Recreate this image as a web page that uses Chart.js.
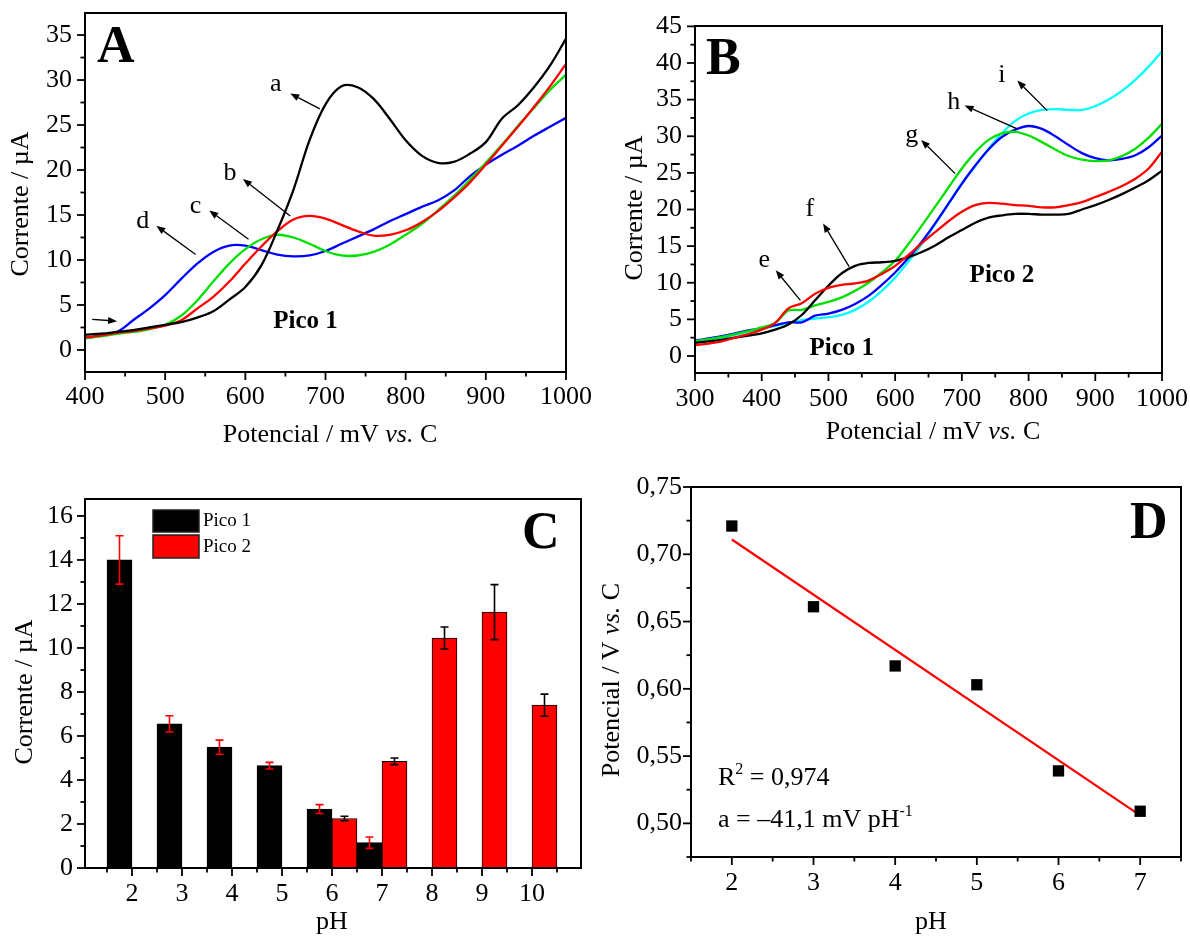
<!DOCTYPE html>
<html>
<head>
<meta charset="utf-8">
<script src="https://cdn.jsdelivr.net/npm/chart.js@4.4.1/dist/chart.umd.min.js"></script>
<style>
  body { margin: 0; background: #fff; }
  #wrap { position: relative; width: 1190px; height: 937px; background: #fff; }
  .panel { position: absolute; }
</style>
</head>
<body>
<div id="wrap">
  <div class="panel" style="left:0;top:0"><canvas id="chartA" width="595" height="465"></canvas></div>
  <div class="panel" style="left:595px;top:0"><canvas id="chartB" width="595" height="465"></canvas></div>
  <div class="panel" style="left:0;top:465px"><canvas id="chartC" width="595" height="472"></canvas></div>
  <div class="panel" style="left:595px;top:465px"><canvas id="chartD" width="595" height="472"></canvas></div>
</div>
<script>
// ---- Panel A: potential (mV) and currents (uA) for curves a-d
const potA = [400, 420, 440, 460, 480, 500, 520, 540, 560, 580, 600, 620, 640, 660, 680, 700,
              720, 740, 760, 780, 800, 820, 840, 860, 880, 900, 920, 940, 960, 980, 1000];
const curveA = [1.7, 1.8, 2.0, 2.2, 2.5, 2.8, 3.1, 3.6, 4.3, 5.6, 7.0, 9.4, 13.3, 17.8, 23.3, 27.3,
                29.3, 29.2, 27.9, 25.7, 23.3, 21.6, 20.8, 20.9, 21.8, 23.1, 25.7, 27.2, 29.2, 31.6, 34.6];
const curveB = [1.4, 1.6, 1.9, 2.1, 2.4, 2.7, 3.3, 4.6, 5.9, 7.6, 9.6, 11.5, 13.2, 14.5, 14.9, 14.6,
                13.9, 13.2, 12.7, 12.8, 13.3, 14.2, 15.4, 16.9, 18.6, 20.6, 22.7, 24.8, 27.0, 29.3, 31.8];
const curveC = [1.3, 1.5, 1.8, 2.0, 2.3, 2.8, 3.8, 5.5, 7.6, 9.6, 11.2, 12.3, 12.8, 12.5, 11.8, 11.0,
                10.5, 10.5, 10.9, 11.7, 12.8, 14.0, 15.5, 17.1, 18.9, 20.8, 22.8, 24.9, 26.9, 28.9, 30.6];
const curveD = [1.3, 1.6, 2.0, 3.3, 4.6, 6.1, 7.9, 9.6, 10.9, 11.6, 11.6, 11.1, 10.6, 10.4, 10.5, 11.0,
                11.8, 12.6, 13.4, 14.3, 15.1, 15.9, 16.6, 17.7, 19.3, 20.6, 21.7, 22.7, 23.8, 24.8, 25.8];
const ticksAx = [400, 500, 600, 700, 800, 900, 1000];
const ticksAy = [0, 5, 10, 15, 20, 25, 30, 35];

// ---- Panel B: curves e-i
const potB = [300, 320, 340, 360, 380, 400, 420, 440, 460, 480, 500, 520, 540, 560, 580, 600, 620, 640,
              660, 680, 700, 720, 740, 760, 780, 800, 820, 840, 860, 880, 900, 920, 940, 960, 980, 1000];
const curveE = [1.5, 1.7, 2.0, 2.5, 3.0, 3.6, 4.5, 6.5, 7.2, 8.5, 9.3, 9.7, 9.9, 10.3, 11.2, 12.3, 13.8, 15.4,
                16.9, 18.4, 19.7, 20.6, 20.9, 20.8, 20.6, 20.5, 20.3, 20.3, 20.6, 21.0, 21.7, 22.4, 23.2, 24.2, 25.6, 27.9];
const curveF = [1.8, 2.0, 2.2, 2.5, 2.8, 3.1, 3.6, 4.3, 5.6, 7.6, 9.6, 11.3, 12.3, 12.7, 12.8, 13.0, 13.5, 14.2,
                15.1, 16.2, 17.2, 18.2, 18.9, 19.2, 19.4, 19.4, 19.3, 19.3, 19.4, 20.0, 20.6, 21.3, 22.1, 23.0, 24.0, 25.3];
const curveG = [2.0, 2.3, 2.6, 3.0, 3.4, 3.9, 4.5, 6.2, 6.3, 6.9, 7.4, 8.0, 8.9, 10.0, 11.4, 13.0, 15.3, 17.8,
                20.4, 23.0, 25.6, 27.8, 29.5, 30.4, 30.6, 30.1, 29.2, 28.2, 27.3, 26.8, 26.6, 26.7, 27.3, 28.3, 29.8, 31.7];
const curveH = [2.1, 2.4, 2.7, 3.1, 3.5, 3.8, 4.2, 4.6, 4.6, 5.5, 5.8, 6.3, 7.1, 8.2, 9.7, 11.4, 13.4, 15.6,
                18.1, 20.8, 23.5, 26.0, 28.2, 29.9, 30.9, 31.4, 31.0, 30.0, 28.8, 27.7, 27.0, 26.7, 26.9, 27.4, 28.5, 30.1];
const curveI = [1.9, 2.2, 2.5, 2.9, 3.3, 3.7, 4.1, 4.5, 4.9, 5.1, 5.3, 5.6, 6.3, 7.4, 8.9, 10.7, 12.9, 15.3,
                18.0, 20.8, 23.6, 25.9, 28.3, 30.4, 32.1, 33.1, 33.6, 33.7, 33.6, 33.6, 34.1, 35.0, 36.2, 37.7, 39.5, 41.6];
const ticksBx = [300, 400, 500, 600, 700, 800, 900, 1000];
const ticksBy = [0, 5, 10, 15, 20, 25, 30, 35, 40, 45];

// ---- Panel C: peak currents vs pH
const phC = [2, 3, 4, 5, 6, 7, 8, 9, 10];
const pico1 = [14.0, 6.55, 5.49, 4.65, 2.68, 1.15, null, null, null];
const pico1Err = [1.1, 0.37, 0.32, 0.15, 0.2, 0.26, null, null, null];
const pico2 = [null, null, null, null, 2.25, 4.85, 10.45, 11.63, 7.4];
const pico2Err = [null, null, null, null, 0.1, 0.15, 0.5, 1.25, 0.5];
const ticksCx = [2, 3, 4, 5, 6, 7, 8, 9, 10];
const ticksCy = [0, 2, 4, 6, 8, 10, 12, 14, 16];

// ---- Panel D: peak potential vs pH with linear fit
const phD = [2, 3, 4, 5, 6, 7];
const potD = [0.721, 0.661, 0.617, 0.603, 0.539, 0.509];
const fitX = [2, 7];
const fitY = [0.711, 0.506];
const ticksDx = [2, 3, 4, 5, 6, 7];
const ticksDy = [0.50, 0.55, 0.60, 0.65, 0.70, 0.75];

const FAM = 'Liberation Serif';

function xy(xs, ys) {
  return xs.map((x, i) => ({ x: x, y: ys[i] }));
}

function makeAxis(min, max, ticks, size, pad, fmt) {
  return {
    type: 'linear', min: min, max: max, offset: false,
    grid: { display: false, drawTicks: false },
    border: { display: false },
    ticks: {
      color: '#000', padding: pad, autoSkip: false, maxRotation: 0,
      font: { family: FAM, size: 26 },
      callback: fmt || (v => String(v))
    },
    afterBuildTicks: s => { s.ticks = ticks.map(v => ({ value: v })); },
    afterFit: s => {
      if (s.isHorizontal()) { s.height = size; s.paddingLeft = 0; s.paddingRight = 0; }
      else { s.width = size; s.paddingTop = 0; s.paddingBottom = 0; }
    }
  };
}

function baseOptions(top, right, xAxis, yAxis) {
  return {
    responsive: false, animation: false,
    layout: { padding: { top: top, right: right, bottom: 0, left: 0 }, autoPadding: false },
    plugins: { legend: { display: false }, tooltip: { enabled: false } },
    scales: { x: xAxis, y: yAxis }
  };
}

function curve(label, xs, ys, color) {
  return {
    label: label, data: xy(xs, ys), borderColor: color, borderWidth: 2.3,
    pointRadius: 0, fill: false, tension: 0.35
  };
}

// frame box + outward major/minor ticks
const frameTicks = {
  id: 'frameTicks',
  afterDraw(chart) {
    const { ctx, chartArea: a } = chart;
    ctx.save();
    ctx.strokeStyle = '#000';
    ctx.lineWidth = 2;
    ctx.strokeRect(a.left, a.top, a.right - a.left, a.bottom - a.top);
    ctx.lineWidth = 1.8;
    [chart.scales.x, chart.scales.y].forEach(s => {
      const major = s.ticks.map(t => t.value);
      const step = major[1] - major[0];
      const minor = [major[0] - step / 2].concat(major.map(v => v + step / 2))
        .filter(v => v >= s.min - 1e-9 && v <= s.max + 1e-9);
      const mark = (v, len) => {
        const p = s.getPixelForValue(v);
        ctx.beginPath();
        if (s.isHorizontal()) { ctx.moveTo(p, a.bottom); ctx.lineTo(p, a.bottom + len); }
        else { ctx.moveTo(a.left, p); ctx.lineTo(a.left - len, p); }
        ctx.stroke();
      };
      major.forEach(v => mark(v, 8));
      minor.forEach(v => mark(v, 4.5));
    });
    ctx.restore();
  }
};

function fontOf(st, size) {
  return (st.includes('i') ? 'italic ' : '') + (st.includes('b') ? 'bold ' : '') + size + 'px "' + FAM + '", serif';
}

function drawRich(ctx, segs, size, align) {
  const parts = segs.map(([s, st = '']) => {
    const sz = st.includes('^') ? Math.round(size * 0.6) : size;
    ctx.font = fontOf(st, sz);
    return { s: s, st: st, sz: sz, w: ctx.measureText(s).width };
  });
  const total = parts.reduce((t, p) => t + p.w, 0);
  let x = align === 'center' ? -total / 2 : 0;
  parts.forEach(p => {
    ctx.font = fontOf(p.st, p.sz);
    ctx.fillText(p.s, x, p.st.includes('^') ? -size * 0.42 : 0);
    x += p.w;
  });
}

function drawArrow(ctx, a, b) {
  const ang = Math.atan2(b[1] - a[1], b[0] - a[0]);
  const L = 9, W = 3.5;
  const bx = b[0] - L * Math.cos(ang), by = b[1] - L * Math.sin(ang);
  ctx.lineWidth = 1.3;
  ctx.beginPath(); ctx.moveTo(a[0], a[1]); ctx.lineTo(bx, by); ctx.stroke();
  ctx.beginPath();
  ctx.moveTo(b[0], b[1]);
  ctx.lineTo(bx + W * Math.sin(ang), by - W * Math.cos(ang));
  ctx.lineTo(bx - W * Math.sin(ang), by + W * Math.cos(ang));
  ctx.closePath(); ctx.fill();
}

// annotations: texts (px or data coords), arrows (data coords), legend boxes (px)
function textLayer(items) {
  return {
    id: 'textLayer',
    afterDraw(chart) {
      const ctx = chart.ctx, sx = chart.scales.x, sy = chart.scales.y;
      const toPx = (p, data) => data ? [sx.getPixelForValue(p[0]), sy.getPixelForValue(p[1])] : p;
      items.forEach(it => {
        ctx.save();
        ctx.fillStyle = '#000'; ctx.strokeStyle = '#000';
        if (it.arrow) {
          drawArrow(ctx, toPx(it.arrow[0], true), toPx(it.arrow[1], true));
        } else if (it.box) {
          ctx.fillStyle = it.fill;
          ctx.fillRect(it.box[0], it.box[1], it.box[2], it.box[3]);
          ctx.lineWidth = 1.5;
          ctx.strokeStyle = '#222';
          ctx.strokeRect(it.box[0], it.box[1], it.box[2], it.box[3]);
        } else {
          const p = toPx(it.at, it.data);
          ctx.translate(p[0], p[1]);
          if (it.rot) ctx.rotate(-Math.PI / 2);
          ctx.textBaseline = it.base || 'middle';
          ctx.textAlign = 'left';
          drawRich(ctx, it.segs, it.size || 26, it.align || 'center');
        }
        ctx.restore();
      });
    }
  };
}

const errorBars = {
  id: 'errorBars',
  afterDatasetsDraw(chart) {
    const ctx = chart.ctx, y = chart.scales.y;
    const sets = [{ err: pico1Err, color: '#ff0000' }, { err: pico2Err, color: '#000' }];
    sets.forEach((s, di) => {
      const meta = chart.getDatasetMeta(di);
      const vals = chart.data.datasets[di].data;
      s.err.forEach((e, i) => {
        const v = vals[i].y;
        if (v == null || e == null) return;
        const x = meta.data[i].x;
        const t = y.getPixelForValue(v + e), b = y.getPixelForValue(v - e);
        ctx.save();
        ctx.strokeStyle = s.color; ctx.lineWidth = 1.6;
        ctx.beginPath();
        ctx.moveTo(x, t); ctx.lineTo(x, b);
        ctx.moveTo(x - 4, t); ctx.lineTo(x + 4, t);
        ctx.moveTo(x - 4, b); ctx.lineTo(x + 4, b);
        ctx.stroke();
        ctx.restore();
      });
    });
  }
};

const xTitleMv = [['Potencial / mV '], ['vs.', 'i'], [' C']];

// ---- Chart A
new Chart(document.getElementById('chartA'), {
  type: 'line',
  data: { datasets: [
    curve('a', potA, curveA, '#000000'),
    curve('b', potA, curveB, '#ff0000'),
    curve('c', potA, curveC, '#00e000'),
    curve('d', potA, curveD, '#0000ff')
  ] },
  options: baseOptions(13, 29,
    makeAxis(400, 1000, ticksAx, 93, 10),
    makeAxis(-2.45, 37.45, ticksAy, 85, 13)),
  plugins: [frameTicks, textLayer([
    { at: [97, 62], segs: [['A', 'b']], size: 52, align: 'left', base: 'alphabetic' },
    { at: [330, 435], segs: xTitleMv },
    { at: [21, 204], segs: [['Corrente / µA']], rot: true },
    { at: [638, 29.5], data: true, segs: [['a']] },
    { arrow: [[693, 26.8], [656, 28.5]] },
    { at: [581, 19.7], data: true, segs: [['b']] },
    { arrow: [[656, 14.9], [597, 19.0]] },
    { at: [538, 16.0], data: true, segs: [['c']] },
    { arrow: [[604, 12.3], [555, 15.5]] },
    { at: [472, 14.3], data: true, segs: [['d']] },
    { arrow: [[538, 10.6], [489, 13.8]] },
    { arrow: [[409, 3.4], [440, 3.2]] },
    { at: [675, 3.2], data: true, segs: [['Pico 1', 'b']], size: 25 }
  ])]
});

// ---- Chart B
new Chart(document.getElementById('chartB'), {
  type: 'line',
  data: { datasets: [
    curve('e', potB, curveE, '#ff0000'),
    curve('f', potB, curveF, '#000000'),
    curve('g', potB, curveG, '#00e000'),
    curve('h', potB, curveH, '#0000ff'),
    curve('i', potB, curveI, '#00ffff')
  ] },
  options: baseOptions(26, 28,
    makeAxis(300, 1000, ticksBx, 92, 11),
    makeAxis(-2.32, 45.05, ticksBy, 100, 13)),
  plugins: [frameTicks, textLayer([
    { at: [111, 74], segs: [['B', 'b']], size: 52, align: 'left', base: 'alphabetic' },
    { at: [338, 432], segs: xTitleMv },
    { at: [40, 208], segs: [['Corrente / µA']], rot: true },
    { at: [760, 38.3], data: true, segs: [['i']] },
    { arrow: [[828, 33.5], [783, 37.6]] },
    { at: [688, 34.7], data: true, segs: [['h']] },
    { arrow: [[783, 31.0], [704, 34.2]] },
    { at: [625, 30.1], data: true, segs: [['g']] },
    { arrow: [[690, 24.9], [639, 29.5]] },
    { at: [472, 20.1], data: true, segs: [['f']] },
    { arrow: [[531, 12.2], [492, 18.1]] },
    { at: [404, 13.1], data: true, segs: [['e']] },
    { arrow: [[458, 7.6], [421, 11.7]] },
    { at: [520, 1.05], data: true, segs: [['Pico 1', 'b']], size: 25 },
    { at: [760, 11.05], data: true, segs: [['Pico 2', 'b']], size: 25 }
  ])]
});

// ---- Chart C
new Chart(document.getElementById('chartC'), {
  type: 'bar',
  data: { datasets: [
    { label: 'Pico 1', data: xy(phC, pico1), backgroundColor: '#000000', borderColor: '#000', borderWidth: 1,
      categoryPercentage: 1, barPercentage: 1 },
    { label: 'Pico 2', data: xy(phC, pico2), backgroundColor: '#ff0000', borderColor: '#000', borderWidth: 1,
      categoryPercentage: 1, barPercentage: 1 }
  ] },
  options: baseOptions(34, 14,
    makeAxis(1.06, 10.98, ticksCx, 69, 11),
    makeAxis(0, 16.77, ticksCy, 85, 12)),
  plugins: [errorBars, frameTicks, textLayer([
    { box: [153, 45, 46, 22], fill: '#000000' },
    { box: [153, 70, 46, 23], fill: '#ff0000' },
    { at: [203, 56], segs: [['Pico 1']], size: 19, align: 'left' },
    { at: [203, 82], segs: [['Pico 2']], size: 19, align: 'left' },
    { at: [522, 83], segs: [['C', 'b']], size: 52, align: 'left', base: 'alphabetic' },
    { at: [332, 457], segs: [['pH']] },
    { at: [25, 227], segs: [['Corrente / µA']], rot: true }
  ])]
});

// ---- Chart D
new Chart(document.getElementById('chartD'), {
  type: 'scatter',
  data: { datasets: [
    { label: 'Ep', data: xy(phD, potD), pointStyle: 'rect', pointRadius: 8,
      backgroundColor: '#000', borderColor: '#000', borderWidth: 0 },
    { label: 'fit', data: xy(fitX, fitY), showLine: true, borderColor: '#ff0000', borderWidth: 2.2,
      pointRadius: 0 }
  ] },
  options: baseOptions(22, 9,
    makeAxis(1.5, 7.5, ticksDx, 80, 11),
    makeAxis(0.475, 0.75, ticksDy, 96, 9, v => v.toFixed(2).replace('.', ','))),
  plugins: [frameTicks, textLayer([
    { at: [535, 73], segs: [['D', 'b']], size: 52, align: 'left', base: 'alphabetic' },
    { at: [336, 457], segs: [['pH']] },
    { at: [17, 215], segs: [['Potencial / V '], ['vs.', 'i'], [' C']], rot: true },
    { at: [123, 320], segs: [['R'], ['2', '^'], [' = 0,974']], align: 'left', base: 'alphabetic' },
    { at: [123, 362], segs: [['a = –41,1 mV pH'], ['-1', '^']], align: 'left', base: 'alphabetic' }
  ])]
});
</script>
</body>
</html>
